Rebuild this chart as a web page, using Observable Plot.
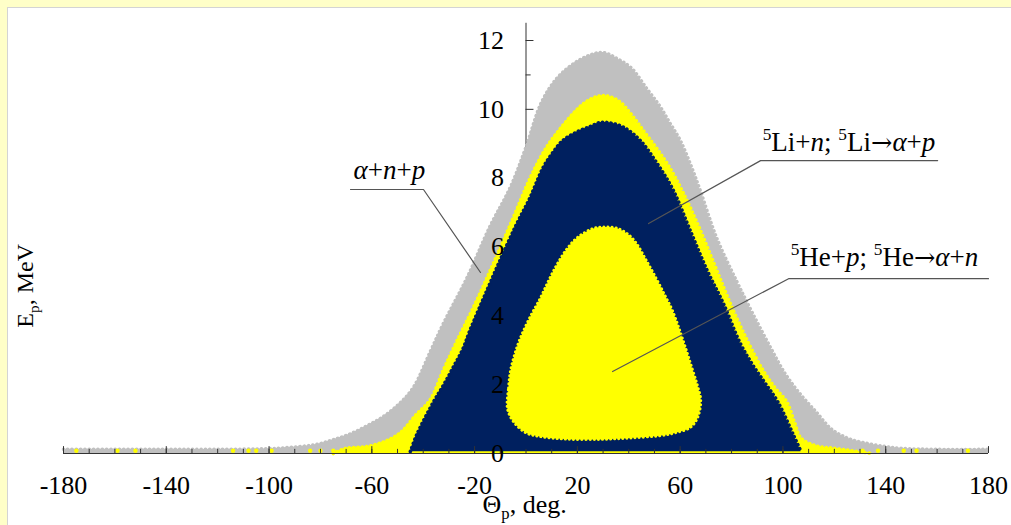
<!DOCTYPE html>
<html><head><meta charset="utf-8">
<script src="https://cdn.jsdelivr.net/npm/d3@7"></script>
<script src="https://cdn.jsdelivr.net/npm/@observablehq/plot@0.6"></script>
<style>
html,body{margin:0;padding:0;width:1011px;height:525px;overflow:hidden;background:#ffffc8;}
#panel{position:absolute;left:7px;top:7px;width:1004px;height:518px;background:#fff;border-left:1px solid #d4d4d4;border-top:1px solid #d4d4d4;}
#chart{position:absolute;left:0;top:0;}
</style></head><body><div id="panel"><div id="chart"></div></div>
<script>
// ---- data (θp in degrees, Ep in MeV) ----
const grayTheta = [-180,-160,-140,-120,-100,-95,-88,-81,-75,-69,-62,-56,-50,-44,-37,-32,-23,-14,-6,0,6,12,18,24,30,36,41,47,52,56,60,64,68,74,82,88,95,101,107,113,119,126,133,140,146,160,180];
const grayE     = [0.12,0.12,0.12,0.12,0.14,0.16,0.2,0.27,0.4,0.55,0.8,1.05,1.4,1.9,3.0,3.8,5.1,6.6,7.75,8.9,10.2,10.9,11.3,11.55,11.65,11.45,11.2,10.6,10.1,9.6,9.1,8.4,7.6,6.3,5.0,4.1,3.1,2.3,1.7,1.2,0.7,0.42,0.29,0.2,0.15,0.12,0.12];

const yellowTheta = [-75,-70,-62,-55,-49,-42.5,-37.4,-32,-27,-20.5,-12.7,-4.9,1.6,8,14,19.5,24,30,36,41,46,51,56,61,66.6,73,79.5,86,92,97,101.5,104.5,107,113,120,135];
const yellowE     = [0,0.15,0.2,0.35,0.6,1.15,1.55,2.45,3.25,4.24,5.52,6.86,8.0,8.9,9.5,9.97,10.25,10.4,10.25,9.85,9.35,8.85,8.3,7.6,6.7,5.55,4.36,3.3,2.45,1.9,1.5,0.9,0.45,0.22,0.15,0];

const navyTheta = [-45,-42.5,-36,-32,-28,-24.5,-21.8,-15.2,-9,-3.5,1.6,6.6,10.5,14.4,20,25,29,33,38,44.4,51,57.3,63.9,70.5,76.8,83.4,88,93,98,104,107];
const navyE     = [0.06,0.55,1.5,2.0,2.55,3.05,3.58,4.74,5.8,6.69,7.44,8.3,8.75,9.1,9.35,9.5,9.62,9.6,9.48,9.1,8.43,7.65,6.48,5.32,4.36,3.2,2.6,2.05,1.5,0.55,0.06];

const innerTheta = [-7.2,-6.8,-6,-4.3,-2.1,1.5,5.7,9,12.3,16,20.1,26.3,31,35.6,40,43,46.5,50.5,54,57,61.5,64.5,66.8,68,66.8,64,58,52.4,40,29,15,5,0,-4.8];
const innerE     = [1.3,1.9,2.41,2.9,3.37,3.95,4.53,5.05,5.52,5.95,6.28,6.54,6.58,6.54,6.35,6.1,5.65,5.11,4.6,4.15,3.2,2.5,1.95,1.54,1.05,0.76,0.6,0.52,0.45,0.41,0.42,0.5,0.6,0.92];

const yellowDotTheta = [-175,-159,-152,-114,-108,-105,-99,-84,-80,-75,131,137,147,152,172];
const yellowDotE     = [0.08,0.08,0.08,0.08,0.08,0.08,0.08,0.08,0.08,0.08,0.08,0.08,0.08,0.08,0.08];

const xTickLabels = [-180,-140,-100,-60,-20,20,60,100,140,180];
const xMinorTicks = d3.range(-180, 181, 10);
const yTickLabels = [0,2,4,6,8,10,12];
const yMinorTicks = [1,3,5,7,9,11];

const annoLabels = ["<i>α</i>+<i>n</i>+<i>p</i>",
                    "<sup>5</sup>Li+<i>n</i>; <sup>5</sup>Li<a>→</a><i>α</i>+<i>p</i>",
                    "<sup>5</sup>He+<i>p</i>; <sup>5</sup>He<a>→</a><i>α</i>+<i>n</i>"];
const annoTextTheta = [-67.1, 92.1, 103];
const annoTextE = [7.99, 8.80, 5.46];
const annoPathTheta = [[-68.3,-39.9,-17.7],[160.2,91.3,47.7],[180,102.2,33.7]];
const annoPathE = [[7.67,7.67,5.26],[8.51,8.51,6.68],[5.08,5.08,2.38]];

const xTitle = "Θ<sub>p</sub>, deg.";
const yTitle = "E<sub>p</sub>, MeV";

// ---- build tables ----
const zip = (t, e) => t.map((v, i) => ({t: v, e: e[i]}));
const gray = zip(grayTheta, grayE);
const yel = zip(yellowTheta, yellowE);
const navy = zip(navyTheta, navyE);
const inner = zip(innerTheta, innerE);
const ydots = zip(yellowDotTheta, yellowDotE);
const annoText = annoLabels.map((l, i) => ({l, t: annoTextTheta[i], e: annoTextE[i]}));
const annoPath = annoLabels.flatMap((l, i) => annoPathTheta[i].map((t, j) => ({l, t, e: annoPathE[i][j]})));

const C_GRAY = "#c0c0c0", C_YEL = "#ffff00", C_NAVY = "#00205f";
const bead = {strokeWidth: 3.6, strokeDasharray: "0.1 4.2", strokeLinecap: "round", curve: "catmull-rom"};

const chart = Plot.plot({
  width: 1003, height: 517,
  marginLeft: 55, marginRight: 23, marginTop: 32, marginBottom: 72,
  x: {domain: [-180, 180], axis: null},
  y: {domain: [0, 12], axis: null},
  style: {fontFamily: "'Liberation Serif', 'Times New Roman', serif", background: "transparent", color: "#000", overflow: "visible"},
  marks: [
    // y axis (under data)
    Plot.ruleX([0], {y1: 0, y2: 12.5, stroke: "#333", strokeWidth: 1}),
    Plot.ruleY(yTickLabels, {y: d => d, x1: 0, x2: 3.1, stroke: "#333", strokeWidth: 1}),
    Plot.ruleY(yMinorTicks, {y: d => d, x1: 0, x2: 2, stroke: "#333", strokeWidth: 1}),
    // α+n+p phase space (gray)
    Plot.areaY(gray, {x: "t", y1: 0, y2: "e", fill: C_GRAY, curve: "catmull-rom"}),
    Plot.line(gray, {x: "t", y: "e", stroke: C_GRAY, ...bead}),
    // outer yellow band
    Plot.areaY(yel, {x: "t", y1: 0, y2: "e", fill: C_YEL, curve: "catmull-rom"}),
    Plot.line(yel, {x: "t", y: "e", stroke: C_YEL, ...bead}),
    Plot.dot(ydots, {x: "t", y: "e", r: 2.2, fill: C_YEL}),
    // 5Li + n (navy)
    Plot.areaY(navy, {x: "t", y1: 0.05, y2: "e", fill: C_NAVY, curve: "catmull-rom"}),
    Plot.line(navy, {x: "t", y: "e", stroke: C_NAVY, ...bead}),
    // 5He + p (inner yellow)
    Plot.line(inner, {x: "t", y: "e", fill: C_YEL, stroke: C_YEL, strokeWidth: 3, strokeDasharray: "0.1 4", strokeLinecap: "round", curve: "catmull-rom-closed"}),
    // x axis
    Plot.ruleY([0], {x1: -180, x2: 180, stroke: "#333", strokeWidth: 1}),
    Plot.ruleX(xMinorTicks, {x: d => d, y1: 0, y2: 0.12, stroke: "#333", strokeWidth: 1}),
    Plot.ruleX(xTickLabels, {x: d => d, y1: 0, y2: 0.2, stroke: "#333", strokeWidth: 1}),
    // tick labels
    Plot.text(xTickLabels, {x: d => d, y: 0, text: d => String(d), dy: 40, lineAnchor: "bottom", fontSize: 26, fill: "#000"}),
    Plot.text(yTickLabels, {x: 0, y: d => d, text: d => String(d), dx: -22, textAnchor: "end", fontSize: 26, fill: "#000"}),
    // axis titles
    Plot.text([xTitle], {x: -16.9, y: 0, text: d => d, dy: 59, textAnchor: "start", lineAnchor: "bottom", fontSize: 26, fill: "#000"}),
    Plot.text([yTitle], {x: -191.7, y: 4.87, text: d => d, rotate: -90, textAnchor: "middle", lineAnchor: "bottom", fontSize: 24, fill: "#000"}),
    // annotations
    Plot.line(annoPath, {x: "t", y: "e", z: "l", stroke: "#555", strokeWidth: 1.2, curve: "linear"}),
    Plot.text(annoText, {x: "t", y: "e", text: "l", textAnchor: "start", lineAnchor: "bottom", fontSize: 27, fill: "#000"})
  ]
});
document.getElementById("chart").appendChild(chart);

// rich text: superscripts, subscripts, italics, arrow as tspans
chart.querySelectorAll("text").forEach(t => {
  const s = t.textContent;
  if (!s.includes("<")) return;
  const fs = parseFloat(getComputedStyle(t).fontSize) || 26;
  const parts = s.split(/(<sup>.*?<\/sup>|<sub>.*?<\/sub>|<i>.*?<\/i>|<a>.*?<\/a>)/).filter(p => p.length);
  let shift = 0, html = "";
  for (const p of parts) {
    let m;
    if ((m = p.match(/^<sup>(.*)<\/sup>$/))) {
      const dy = -fs * 0.38;
      html += `<tspan font-size="${(fs * 0.64).toFixed(1)}" dy="${(dy - shift).toFixed(1)}">${m[1]}</tspan>`;
      shift = dy;
    } else if ((m = p.match(/^<sub>(.*)<\/sub>$/))) {
      const dy = fs * 0.24;
      html += `<tspan font-size="${(fs * 0.64).toFixed(1)}" dy="${(dy - shift).toFixed(1)}">${m[1]}</tspan>`;
      shift = dy;
    } else if ((m = p.match(/^<i>(.*)<\/i>$/))) {
      html += `<tspan font-style="italic" dy="${(-shift).toFixed(1)}">${m[1]}</tspan>`;
      shift = 0;
    } else if ((m = p.match(/^<a>(.*)<\/a>$/))) {
      html += `<tspan font-family="'DejaVu Serif'" font-size="${(fs * 0.95).toFixed(1)}" dy="${(-shift).toFixed(1)}">${m[1]}</tspan>`;
      shift = 0;
    } else {
      html += `<tspan dy="${(-shift).toFixed(1)}">${p.replace(/&/g, "&amp;")}</tspan>`;
      shift = 0;
    }
  }
  t.innerHTML = html;
});
</script></body></html>
